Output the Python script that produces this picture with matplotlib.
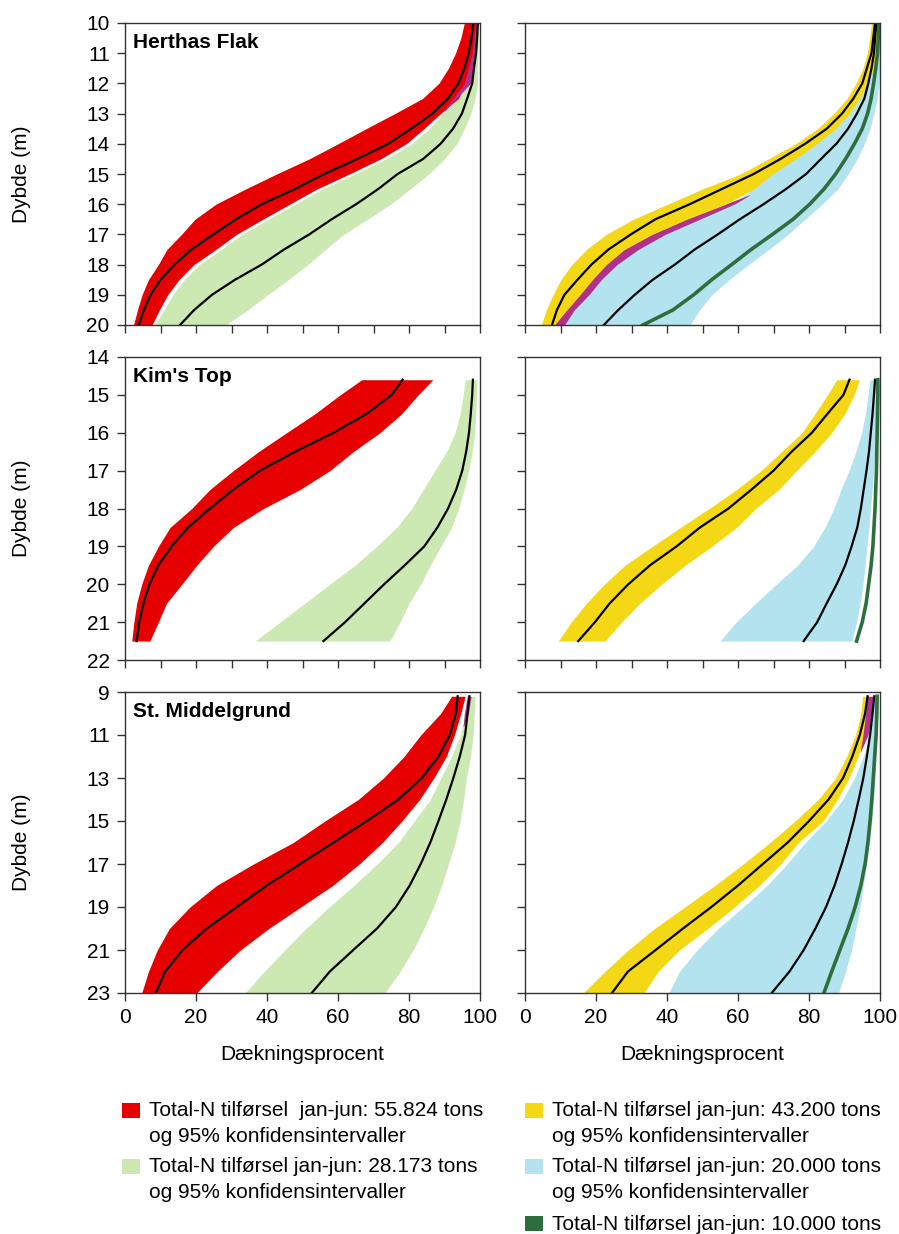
import matplotlib.pyplot as plt
from matplotlib.patches import Rectangle

plt.rcParams['font.family'] = ['Liberation Sans', 'DejaVu Sans']

RED = '#e60000'
LGREEN = '#cde9b3'
YELLOW = '#f4d816'
LBLUE = '#b3e3ee'
PURPLE = '#b0308e'
DGREEN = '#2e6e3c'

# ---- Herthas Flak ----
hf_depth = [10, 10.5, 11, 11.5, 12, 12.5, 13, 13.5, 14, 14.5, 15,
            15.5, 16, 16.5, 17, 17.5, 18, 18.5, 19, 19.5, 20]
hf_red_lo = [95.6, 94.6, 93.1, 91.1, 88.4, 83.8, 76.0, 67.9, 60.0, 51.9, 42.7,
             33.9, 25.6, 19.7, 15.9, 11.8, 9.4, 6.6, 4.8, 3.5, 2.4]
hf_red_mid = [98.1, 97.6, 96.8, 95.6, 93.9, 91.0, 86.6, 80.6, 74.1, 65.5, 56.1,
              47.8, 38.5, 31.2, 24.9, 18.7, 13.9, 10.0, 7.2, 5.3, 3.9]
hf_red_hi = [99.0, 98.6, 98.1, 97.2, 96.1, 93.9, 88.9, 84.2, 79.2, 72.0, 63.2,
             54.0, 46.4, 38.8, 31.4, 25.6, 19.4, 15.2, 12.0, 9.7, 7.6]
hf_grn_lo = [98.8, 98.5, 98.0, 97.3, 96.0, 93.8, 89.5, 85.7, 80.7, 73.5, 64.7,
             55.5, 47.9, 40.3, 32.9, 27.1, 20.9, 16.7, 13.5, 11.0, 8.4]
hf_grn_mid = [99.4, 99.2, 98.9, 98.3, 97.8, 96.4, 94.9, 92.4, 88.9, 84.0, 76.8,
              71.3, 65.1, 58.2, 51.9, 44.8, 38.5, 31.0, 24.5, 19.5, 15.5]
hf_grn_hi = [99.6, 99.5, 99.4, 99.3, 99.3, 98.6, 97.4, 95.6, 93.5, 90.0, 85.6,
             80.3, 74.8, 68.3, 61.6, 56.5, 51.5, 46.0, 40.2, 34.6, 28.4]
hf_pur_depth = [10, 11, 12, 12.9]
hf_pur_lo = [98.8, 97.8, 95.6, 89.8]
hf_pur_hi = [99.3, 98.8, 97.3, 90.2]

hf_yel_lo = [97.6, 97.1, 96.4, 95.2, 93.2, 90.7, 87.0, 82.4, 76.2, 68.6, 60.7,
             49.9, 40.2, 30.5, 22.9, 17.3, 13.2, 10.1, 7.9, 6.0, 4.6]
hf_yel_mid = [98.6, 98.1, 97.6, 96.3, 95.0, 92.5, 89.3, 85.0, 78.9, 72.0, 64.4,
              55.4, 46.4, 36.7, 29.8, 23.5, 18.7, 14.8, 11.1, 9.0, 7.6]
hf_yel_hi = [99.3, 99.0, 98.8, 98.2, 96.5, 94.2, 91.4, 87.5, 82.1, 76.2, 69.7,
             64.5, 56.5, 45.5, 35.8, 28.0, 22.9, 19.0, 15.5, 11.8, 8.3]
hf_blu_lo = [99.0, 98.7, 98.5, 97.7, 96.0, 93.7, 90.9, 87.0, 81.6, 75.7, 69.2,
             64.0, 58.5, 48.8, 39.2, 31.6, 25.6, 21.2, 17.7, 13.6, 10.8]
hf_blu_mid = [99.0, 98.6, 98.3, 97.6, 96.7, 95.6, 93.5, 91.0, 87.7, 83.4, 79.2,
              73.5, 67.2, 60.5, 54.3, 47.8, 42.2, 36.0, 30.9, 26.3, 22.2]
hf_blu_hi = [100, 100, 100, 99.9, 99.7, 99.2, 98.2, 97.2, 95.6, 93.6, 91.0,
             88.1, 83.7, 78.9, 74.1, 68.7, 63.0, 57.5, 52.6, 49.2, 46.4]
hf_dkg = [99.7, 99.5, 99.3, 98.8, 98.2, 97.5, 96.5, 95.0, 92.8, 90.3, 87.5,
          84.2, 80.2, 75.5, 69.7, 63.7, 58.2, 52.6, 47.5, 41.7, 33.2]
hf_pur2_depth = [15.7, 16, 16.5, 17, 17.5, 18, 18.5, 19, 19.5, 20]
hf_pur2_lo = [63.0, 56.3, 45.3, 35.6, 27.8, 22.7, 18.8, 15.3, 11.6, 8.1]
hf_pur2_hi = [63.3, 58.9, 49.2, 39.5, 31.9, 25.9, 21.5, 18.0, 13.9, 11.1]

# ---- Kim's Top ----
kt_depth = [14.6, 15, 15.5, 16, 16.5, 17, 17.5, 18, 18.5, 19, 19.5, 20, 20.5, 21, 21.5]
kt_red_lo = [66.7, 60.6, 53.5, 45.5, 37.6, 30.5, 23.9, 18.8, 12.7, 9.4, 6.6, 4.7, 3.3, 2.5, 1.9]
kt_red_mid = [78.2, 75.1, 68.1, 58.7, 47.9, 38.0, 30.5, 23.9, 17.8, 13.1, 9.4, 6.9, 5.2, 4.0, 3.3]
kt_red_hi = [86.7, 82.6, 77.9, 71.8, 64.3, 57.7, 49.3, 39.0, 30.5, 24.9, 20.2, 16.0, 11.7, 9.4, 7.0]
kt_grn_lo = [95.8, 95.3, 94.4, 93.0, 90.6, 87.3, 84.0, 80.8, 76.5, 70.9, 64.8, 57.7, 50.7, 43.7, 36.6]
kt_grn_mid = [98.0, 97.8, 97.4, 96.9, 96.1, 95.0, 93.3, 91.0, 88.0, 84.3, 78.8, 73.0, 67.5, 62.0, 55.9]
kt_grn_hi = [99.1, 99.0, 98.8, 98.5, 97.8, 96.8, 95.5, 94.0, 92.0, 89.0, 86.0, 83.3, 80.0, 77.5, 74.6]

kt_yel_lo = [87.8, 85.2, 81.7, 78.0, 72.3, 66.5, 59.6, 51.9, 43.8, 35.9, 28.1, 22.4, 17.3, 13.0, 9.4]
kt_yel_mid = [91.4, 89.7, 85.2, 80.8, 75.1, 70.0, 63.8, 57.3, 49.3, 42.7, 35.2, 29.1, 23.9, 19.7, 15.0]
kt_yel_hi = [94.2, 92.7, 90.1, 86.4, 81.7, 76.5, 71.5, 65.0, 59.6, 52.6, 45.1, 38.5, 32.4, 27.2, 22.5]
kt_blu_lo = [97.2, 96.6, 95.9, 94.8, 93.2, 91.3, 89.0, 87.0, 84.5, 81.3, 76.8, 70.8, 65.0, 59.5, 54.9]
kt_blu_mid = [98.6, 98.3, 97.9, 97.4, 96.9, 96.2, 95.4, 94.6, 93.6, 92.0, 90.2, 87.8, 85.0, 82.3, 78.5]
kt_blu_hi = [99.1, 99.0, 98.9, 98.7, 98.5, 98.2, 97.8, 97.3, 96.9, 96.3, 95.8, 95.2, 94.4, 93.4, 92.0]
kt_dkg = [99.4, 99.4, 99.3, 99.2, 99.1, 99.0, 98.8, 98.6, 98.3, 98.0, 97.5, 96.8, 96.1, 95.0, 93.4]

# ---- St. Middelgrund ----
sm_depth = [9.2, 10, 11, 12, 13, 14, 15, 16, 17, 18, 19, 20, 21, 22, 23]
sm_red_lo = [92.0, 88.9, 83.3, 78.6, 72.8, 65.7, 56.3, 47.4, 36.2, 25.8, 18.3, 12.5, 9.1, 6.6, 4.7]
sm_red_mid = [93.7, 93.2, 91.5, 88.3, 83.6, 77.0, 68.1, 58.7, 49.3, 39.9, 31.5, 23.0, 16.2, 11.3, 8.7]
sm_red_hi = [95.8, 94.6, 92.8, 90.5, 87.0, 83.0, 78.0, 72.5, 66.0, 58.5, 49.5, 40.5, 32.5, 26.0, 20.2]
sm_grn_lo = [96.8, 96.0, 94.5, 92.0, 89.0, 86.0, 81.5, 77.0, 71.0, 64.5, 57.5, 51.0, 45.0, 39.2, 33.8]
sm_grn_mid = [97.0, 96.5, 95.8, 94.3, 92.5, 90.5, 88.3, 86.0, 83.3, 80.2, 76.3, 71.0, 64.3, 57.7, 52.6]
sm_grn_hi = [98.6, 98.4, 98.1, 97.3, 96.2, 95.4, 94.4, 93.0, 91.1, 89.2, 86.9, 84.2, 81.2, 77.5, 73.2]
sm_pur_depth = [9.2, 10, 10.6]
sm_pur_lo = [96.4, 95.6, 95.2]
sm_pur_hi = [97.5, 96.7, 95.4]

sm_yel_lo = [95.1, 94.6, 93.1, 90.6, 87.5, 82.6, 76.1, 69.0, 61.5, 53.5, 45.0, 36.5, 29.1, 22.5, 16.4]
sm_yel_mid = [96.5, 95.8, 94.3, 92.2, 89.6, 85.5, 80.0, 74.0, 67.0, 60.0, 52.5, 44.5, 36.8, 29.0, 24.5]
sm_yel_hi = [97.9, 97.3, 95.8, 93.8, 91.3, 88.0, 84.0, 77.0, 72.0, 66.0, 59.0, 51.5, 43.5, 37.5, 33.5]
sm_blu_lo = [98.1, 97.8, 97.2, 95.3, 92.8, 89.5, 84.8, 79.0, 73.8, 68.2, 61.5, 54.4, 48.5, 43.5, 40.5]
sm_blu_mid = [98.4, 97.9, 97.2, 96.3, 95.3, 94.0, 92.6, 91.0, 89.2, 87.2, 84.8, 81.8, 78.5, 74.5, 69.5]
sm_blu_hi = [99.5, 99.4, 99.2, 98.9, 98.6, 98.2, 97.7, 97.0, 96.2, 95.3, 94.4, 93.2, 92.0, 90.3, 88.3]
sm_dkg = [99.2, 99.1, 98.9, 98.5, 98.1, 97.7, 97.2, 96.6, 95.8, 94.6, 93.0, 91.0, 88.7, 86.4, 84.2]
sm_pur2_depth = [9.2, 10, 11, 11.8]
sm_pur2_lo = [96.4, 96.0, 95.2, 94.4]
sm_pur2_hi = [98.1, 97.7, 96.6, 94.5]

legend_left = ['Total-N tilførsel  jan-jun: 55.824 tons',
               'Total-N tilførsel jan-jun: 28.173 tons']
legend_right = ['Total-N tilførsel jan-jun: 43.200 tons',
                'Total-N tilførsel jan-jun: 20.000 tons',
                'Total-N tilførsel jan-jun: 10.000 tons']
ci_text = 'og 95% konfidensintervaller'

W, H = 899, 1234
fig = plt.figure(figsize=(W / 100, H / 100), dpi=100)


def px_axes(x0, y0, x1, y1):
    return fig.add_axes([x0 / W, 1 - y1 / H, (x1 - x0) / W, (y1 - y0) / H])


rows = [(23, 325), (357, 660), (692, 993)]
cols = [(125, 480), (525, 880)]
axes = [[px_axes(c[0], r[0], c[1], r[1]) for c in cols] for r in rows]

band = dict(lw=0)
line = dict(color='black', lw=1.6)

# Herthas Flak
ax = axes[0][0]
ax.fill_betweenx(hf_depth, hf_grn_lo, hf_grn_hi, color=LGREEN, **band)
ax.fill_betweenx(hf_depth, hf_red_lo, hf_red_hi, color=RED, **band)
ax.fill_betweenx(hf_pur_depth, hf_pur_lo, hf_pur_hi, color=PURPLE, **band)
ax.plot(hf_red_mid, hf_depth, **line)
ax.plot(hf_grn_mid, hf_depth, **line)

ax = axes[0][1]
ax.fill_betweenx(hf_depth, hf_blu_lo, hf_blu_hi, color=LBLUE, **band)
ax.fill_betweenx(hf_pur2_depth, hf_pur2_lo, hf_pur2_hi, color=PURPLE, **band)
ax.fill_betweenx(hf_depth, hf_yel_lo, hf_yel_hi, color=YELLOW, **band)
ax.plot(hf_yel_mid, hf_depth, **line)
ax.plot(hf_blu_mid, hf_depth, **line)
ax.plot(hf_dkg, hf_depth, color=DGREEN, lw=2.6)

# Kim's Top
ax = axes[1][0]
ax.fill_betweenx(kt_depth, kt_grn_lo, kt_grn_hi, color=LGREEN, **band)
ax.fill_betweenx(kt_depth, kt_red_lo, kt_red_hi, color=RED, **band)
ax.plot(kt_red_mid, kt_depth, **line)
ax.plot(kt_grn_mid, kt_depth, **line)

ax = axes[1][1]
ax.fill_betweenx(kt_depth, kt_blu_lo, kt_blu_hi, color=LBLUE, **band)
ax.fill_betweenx(kt_depth, kt_yel_lo, kt_yel_hi, color=YELLOW, **band)
ax.plot(kt_yel_mid, kt_depth, **line)
ax.plot(kt_blu_mid, kt_depth, **line)
ax.plot(kt_dkg, kt_depth, color=DGREEN, lw=2.6)

# St. Middelgrund
ax = axes[2][0]
ax.fill_betweenx(sm_depth, sm_grn_lo, sm_grn_hi, color=LGREEN, **band)
ax.fill_betweenx(sm_depth, sm_red_lo, sm_red_hi, color=RED, **band)
ax.fill_betweenx(sm_pur_depth, sm_pur_lo, sm_pur_hi, color=PURPLE, **band)
ax.plot(sm_red_mid, sm_depth, **line)
ax.plot(sm_grn_mid, sm_depth, **line)

ax = axes[2][1]
ax.fill_betweenx(sm_depth, sm_blu_lo, sm_blu_hi, color=LBLUE, **band)
ax.fill_betweenx(sm_depth, sm_yel_lo, sm_yel_hi, color=YELLOW, **band)
ax.fill_betweenx(sm_pur2_depth, sm_pur2_lo, sm_pur2_hi, color=PURPLE, **band)
ax.plot(sm_yel_mid, sm_depth, **line)
ax.plot(sm_blu_mid, sm_depth, **line)
ax.plot(sm_dkg, sm_depth, color=DGREEN, lw=2.6)

ylims = [(20, 10), (22, 14), (23, 9)]
yticks = [range(10, 21), range(14, 23), range(9, 24, 2)]
names = ['Herthas Flak', "Kim's Top", 'St. Middelgrund']

for i in range(3):
    for j in range(2):
        ax = axes[i][j]
        ax.set_xlim(0, 100)
        ax.set_ylim(*ylims[i])
        ax.set_yticks(list(yticks[i]))
        if i == 2:
            ax.set_xticks(range(0, 101, 20))
        else:
            ax.set_xticks(range(0, 101, 10))
        ax.tick_params(direction='out', length=6, width=1, color='#333333',
                       labelsize=15, pad=5, top=False, right=False,
                       labelleft=(j == 0), labelbottom=(i == 2))
        for s in ax.spines.values():
            s.set_color('#333333')
            s.set_linewidth(1)
    axes[i][0].text(0.023, 0.935, names[i], transform=axes[i][0].transAxes,
                    fontsize=15, fontweight='bold', va='center', ha='left')
    yc = (rows[i][0] + rows[i][1]) / 2
    fig.text(22 / W, 1 - yc / H, 'Dybde (m)', rotation=90, fontsize=15,
             ha='center', va='center')

fig.text(302 / W, 1 - 1055 / H, 'Dækningsprocent', fontsize=15, ha='center', va='center')
fig.text(702 / W, 1 - 1055 / H, 'Dækningsprocent', fontsize=15, ha='center', va='center')


# legend
def legend_entry(xp, yp, color, label, second=True):
    fig.add_artist(Rectangle((xp / W, 1 - (yp + 15) / H), 18 / W, 15 / H,
                             transform=fig.transFigure, color=color, lw=0))
    fig.text((xp + 27) / W, 1 - (yp + 8) / H, label, fontsize=15, va='center')
    if second:
        fig.text((xp + 27) / W, 1 - (yp + 34) / H, ci_text, fontsize=15, va='center')


legend_entry(122, 1103, RED, legend_left[0])
legend_entry(122, 1159, LGREEN, legend_left[1])
legend_entry(525, 1103, YELLOW, legend_right[0])
legend_entry(525, 1159, LBLUE, legend_right[1])
legend_entry(525, 1216, DGREEN, legend_right[2], second=False)

fig.savefig('out.png', dpi=100)
